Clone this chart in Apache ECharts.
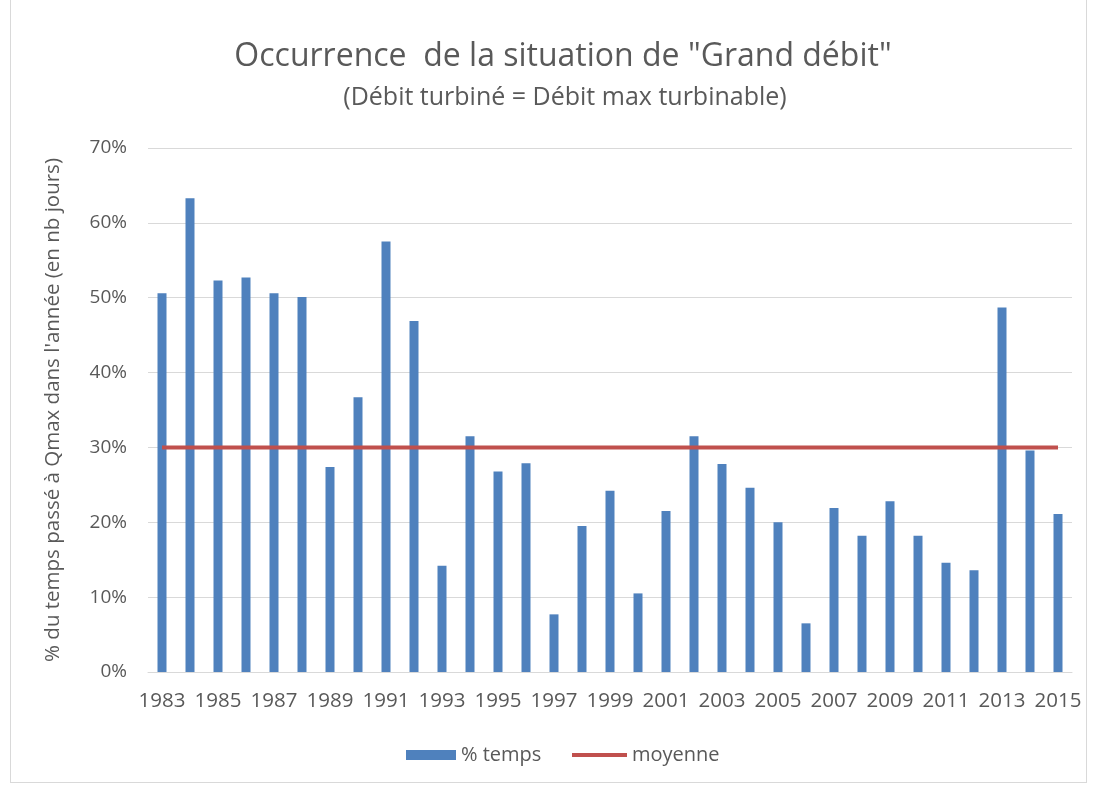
<!DOCTYPE html>
<html>
<head>
<meta charset="utf-8">
<script src="https://cdn.jsdelivr.net/npm/echarts@6/dist/echarts.min.js"></script>
<style>
  html, body { margin: 0; padding: 0; background: #fff; }
  #frame { position: absolute; left: 10px; top: -2px; width: 1077px; height: 785px; border: 1px solid #d9d9d9; box-sizing: border-box; }
  #chart { position: absolute; left: 0; top: 0; width: 1094px; height: 787px; }
</style>
</head>
<body>
<div id="frame"></div>
<div id="chart"></div>
<script>
// Years of record
const years = ['1983','1984','1985','1986','1987','1988','1989','1990','1991','1992','1993',
  '1994','1995','1996','1997','1998','1999','2000','2001','2002','2003','2004','2005',
  '2006','2007','2008','2009','2010','2011','2012','2013','2014','2015'];
// Share of the year spent at max turbinable flow (%)
const tempsPct = [50.6, 63.3, 52.3, 52.7, 50.6, 50.1, 27.4, 36.7, 57.5, 46.9, 14.2,
  31.5, 26.8, 27.9, 7.7, 19.5, 24.2, 10.5, 21.5, 31.5, 27.8, 24.6, 20.0,
  6.5, 21.9, 18.2, 22.8, 18.2, 14.6, 13.6, 48.7, 29.6, 21.1];
// Mean over the period (%)
const meanPct = years.map(() => 30);

const font = "'Open Sans', sans-serif";
const grey = '#595959';
const legendText = { fontFamily: font, fontSize: 20, color: grey };

const chart = echarts.init(document.getElementById('chart'), null, { renderer: 'canvas' });
chart.setOption({
  animation: false,
  title: [
    { text: 'Occurrence  de la situation de "Grand débit"', left: 558, textAlign: 'center', top: 36,
      textStyle: { fontFamily: font, fontSize: 32, fontWeight: 'normal', color: grey } },
    { text: '(Débit turbiné = Débit max turbinable)', left: 560, textAlign: 'center', top: 80,
      textStyle: { fontFamily: font, fontSize: 25, fontWeight: 'normal', color: grey } }
  ],
  legend: [
    { data: ['% temps'], left: 401, bottom: 17, icon: 'rect', itemWidth: 50, itemHeight: 10,
      itemGap: 8, textStyle: legendText },
    { data: ['moyenne'], left: 567, bottom: 17, icon: 'rect', itemWidth: 55, itemHeight: 4,
      itemGap: 8, textStyle: legendText }
  ],
  grid: { left: 148, right: 22, top: 148, bottom: 115 },
  xAxis: {
    type: 'category', data: years,
    axisLine: { lineStyle: { color: '#d9d9d9', width: 1 } },
    axisTick: { show: false },
    axisLabel: { interval: 1, fontFamily: font, fontSize: 20.5, color: grey, margin: 19 }
  },
  yAxis: {
    type: 'value', min: 0, max: 70, interval: 10,
    name: "% du temps passé à Qmax dans l'année (en nb jours)",
    nameLocation: 'middle', nameGap: 84, nameRotate: 90,
    nameTextStyle: { fontFamily: font, fontSize: 20.5, color: grey },
    axisLine: { show: false }, axisTick: { show: false },
    axisLabel: { formatter: '{value}%', fontFamily: font, fontSize: 19, color: grey, margin: 21 },
    splitLine: { lineStyle: { color: '#d9d9d9', width: 1 } }
  },
  series: [
    { name: '% temps', type: 'bar', data: tempsPct, barWidth: 9,
      itemStyle: { color: '#4f81bd' } },
    { name: 'moyenne', type: 'line', data: meanPct, symbol: 'none',
      lineStyle: { color: '#c0504d', width: 4 }, itemStyle: { color: '#c0504d' } }
  ]
});
</script>
</body>
</html>
